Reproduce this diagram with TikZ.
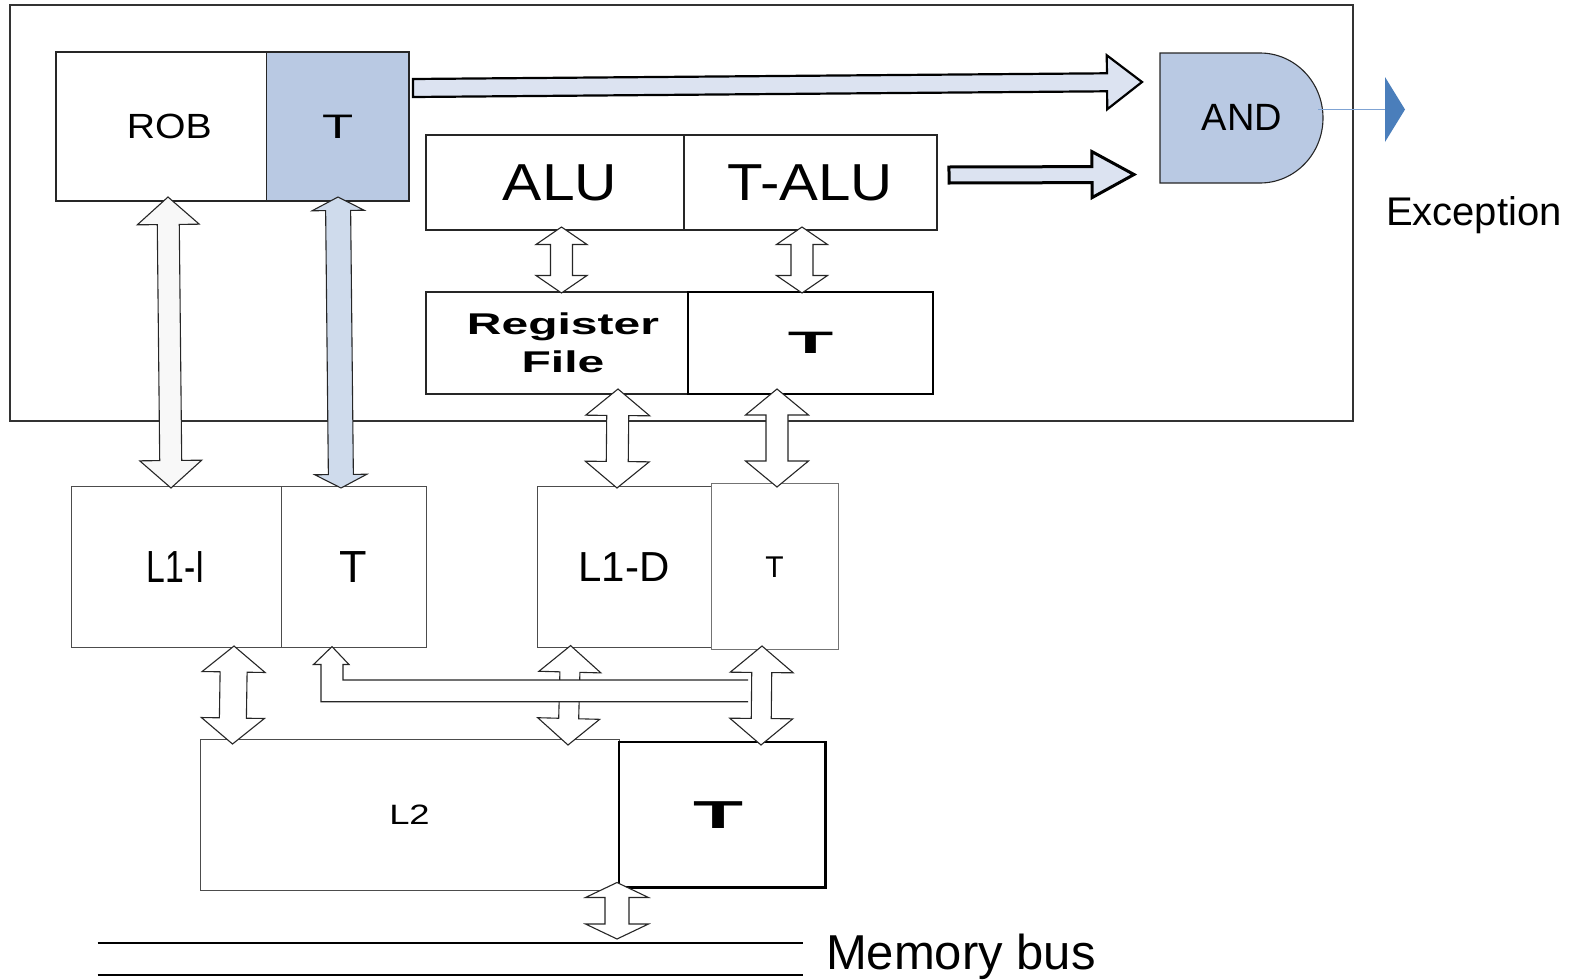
\documentclass[tikz,border=0pt]{standalone}
\usepackage{fontspec}
\setmainfont{Liberation Sans}
\usetikzlibrary{calc}
\definecolor{tblue}{HTML}{B9C9E3}
\definecolor{arrblue}{HTML}{DCE3F1}
\definecolor{arrblueb}{HTML}{CFDBEC}
\definecolor{arrgray}{HTML}{F8F8F8}
\definecolor{outblue}{HTML}{4A7EBB}
\definecolor{outline}{HTML}{7FA3D3}
\newcommand\fs[1]{\fontsize{#1}{#1}\selectfont}
% double block arrow: #1 tip a, #2 tip b, #3 shaft half width, #4 head half width, #5 head length, #6 style
\newcommand\dbarrow[6]{%
  \path ($(#1)!#5!(#2)$) coordinate (da-p) ($(#2)!#5!(#1)$) coordinate (da-q);
  \draw[#6] (#1) -- ($(da-p)!#4!90:(#2)$) -- ($(da-p)!#3!90:(#2)$) -- ($(da-q)!#3!-90:(#1)$) -- ($(da-q)!#4!-90:(#1)$) -- (#2)
    -- ($(da-q)!#4!90:(#1)$) -- ($(da-q)!#3!90:(#1)$) -- ($(da-p)!#3!-90:(#2)$) -- ($(da-p)!#4!-90:(#2)$) -- cycle;}
% single block arrow: #1 tail, #2 tip
\newcommand\sgarrow[6]{%
  \path ($(#2)!#5!(#1)$) coordinate (sa-p);
  \draw[#6] ($(#1)!#3!-90:(#2)$) -- ($(sa-p)!#3!90:(#1)$) -- ($(sa-p)!#4!90:(#1)$) -- (#2)
    -- ($(sa-p)!#4!-90:(#1)$) -- ($(sa-p)!#3!-90:(#1)$) -- ($(#1)!#3!90:(#2)$) -- cycle;}
\begin{document}
\begin{tikzpicture}[x=1pt,y=-1pt,
  box/.style={draw=black!85, inner sep=0pt, outer sep=0pt, anchor=north west, line width=1.2pt, align=center},
  thinbox/.style={box, draw=black!70, line width=1pt},
  thickbox/.style={box, draw=black, line width=2.6pt},
  barrow/.style={draw=black!85, line width=1.1pt, line join=miter},
  txt/.style={inner sep=0pt, outer sep=0pt}]
\useasboundingbox (0,0) rectangle (1583,980);
% frame
\draw[draw=black!80, line width=1.5pt] (10,5) rectangle (1353,421);
% boxes
\node[box, minimum width=210.5pt, minimum height=149pt] (rob) at (56,52) {\fs{35}\hspace*{16pt}\scalebox{1.12}[1]{ROB}};
\node[box, fill=tblue, minimum width=142.5pt, minimum height=149pt] (robt) at (266.5,52) {\fs{34}\scalebox{1.5}[1]{T}};
\node[box, minimum width=258pt, minimum height=95pt] (alu) at (426,135) {\fs{52}\hspace*{10pt}\scalebox{1.13}[1]{ALU}};
\node[box, minimum width=253pt, minimum height=95pt] (talu) at (684,135) {\fs{52}\scalebox{1.12}[1]{T-ALU}};
\node[box, minimum width=262pt, minimum height=102pt, font=\fontsize{30}{38}\selectfont\bfseries] (rf) at (426,292) {\hspace*{12pt}\scalebox{1.6}[1]{Register}\\\hspace*{12pt}\scalebox{1.6}[1]{File}};
\node[thickbox, line width=2pt, minimum width=245pt, minimum height=102pt] (rft) at (688,292) {\fs{31}\bfseries\scalebox{2.4}[1]{T}};
\node[thinbox, minimum width=210pt, minimum height=161.6pt] (l1i) at (71,486) {\fs{45}\scalebox{0.75}[1]{L1-I}};
\node[thinbox, minimum width=145pt, minimum height=161.6pt] (l1it) at (281,486) {\fs{45}T};
\node[thinbox, minimum width=174pt, minimum height=161.6pt] (l1d) at (537,486) {\fs{42}L1-D};
\node[thinbox, draw=black!55, minimum width=127pt, minimum height=166pt] (l1dt) at (711,483.7) {\fs{30}T};
\node[thinbox, minimum width=419pt, minimum height=151pt] (l2) at (200,739) {\fs{28}\scalebox{1.3}[1]{L2}};
\node[thickbox, minimum width=206.5pt, minimum height=145.6pt] (l2t) at (619,742) {\fs{39}\bfseries\hspace*{-7pt}\scalebox{2.1}[1]{T}};
% AND gate
\draw[draw=black!85, fill=tblue, line width=1.1pt] (1160,53) -- (1260,53) arc[start angle=90, end angle=-90, x radius=63pt, y radius=65pt] -- (1160,183) -- cycle;
\node[txt] (and) at (1242,117) {\fs{38}AND};
% output
\coordinate (andout) at (1318,109.5);
\coordinate (exctip) at (1385,109.5);
\draw[outline, line width=1.5pt] (andout) -- (exctip);
\fill[outblue] (exctip) ++(0,-32.5) -- ++(20,32.5) -- ++(-20,32.5) -- cycle;
\node[txt, anchor=base west] (exc) at (1386,225) {\fs{40}Exception};
% long arrows to AND
\coordinate (l1s) at (413,88); \coordinate (l1e) at (1142,82);
\sgarrow{l1s}{l1e}{9pt}{27pt}{35pt}{draw=black, fill=arrblue, line width=2.2pt}
\coordinate (l2s) at (949,175); \coordinate (l2e) at (1134,174.5);
\sgarrow{l2s}{l2e}{8pt}{23pt}{42pt}{draw=black, fill=arrblue, line width=3pt}
% vertical double arrows
\coordinate (a1t) at (168,197); \coordinate (a1b) at (171,488);
\dbarrow{a1t}{a1b}{11pt}{31pt}{27.5pt}{barrow, fill=arrgray}
\coordinate (a2t) at (338,197); \coordinate (a2b) at (341,488);
\dbarrow{a2t}{a2b}{12.5pt}{26pt}{13.5pt}{barrow, fill=arrblueb}
\coordinate (a3t) at (561.5,227); \coordinate (a3b) at (561.5,293);
\dbarrow{a3t}{a3b}{11pt}{25.5pt}{17.5pt}{barrow, fill=white}
\coordinate (a4t) at (802,227); \coordinate (a4b) at (802,293);
\dbarrow{a4t}{a4b}{11pt}{25.5pt}{17.5pt}{barrow, fill=white}
\coordinate (a5t) at (618,389); \coordinate (a5b) at (617,488);
\dbarrow{a5t}{a5b}{11pt}{32pt}{26.5pt}{barrow, fill=white}
\coordinate (a6t) at (777,389); \coordinate (a6b) at (777,487);
\dbarrow{a6t}{a6b}{11pt}{31.5pt}{26pt}{barrow, fill=white}
\coordinate (a7t) at (234,646); \coordinate (a7b) at (232.5,744);
\dbarrow{a7t}{a7b}{13.5pt}{31.5pt}{26pt}{barrow, fill=white}
\coordinate (a8t) at (570.6,645.6); \coordinate (a8b) at (568,745);
\dbarrow{a8t}{a8b}{10pt}{31pt}{26.5pt}{barrow, fill=white}
% L-shaped band to L1-I T
\coordinate (bandtip) at (332,646.6);
\draw[barrow, fill=white] (748,701.7) -- (321,701.7) -- (321,664.5) -- (313.5,664.5) -- (bandtip) -- (349,664.5) -- (343,664.5) -- (343,680) -- (748,680);
\coordinate (a9t) at (762,646); \coordinate (a9b) at (761,745);
\dbarrow{a9t}{a9b}{10pt}{31.5pt}{26.5pt}{barrow, fill=white}
\coordinate (a11t) at (617,882.5); \coordinate (a11b) at (617,939);
\dbarrow{a11t}{a11b}{12pt}{31.5pt}{15pt}{barrow, fill=white}
% memory bus
\draw[line width=2pt] (97.6,942.7) -- (802.5,942.7);
\draw[line width=2pt] (97.6,974.8) -- (802.5,974.8);
\node[txt, anchor=base west] (mem) at (826,969) {\fs{49}Memory bus};
\end{tikzpicture}
\end{document}
